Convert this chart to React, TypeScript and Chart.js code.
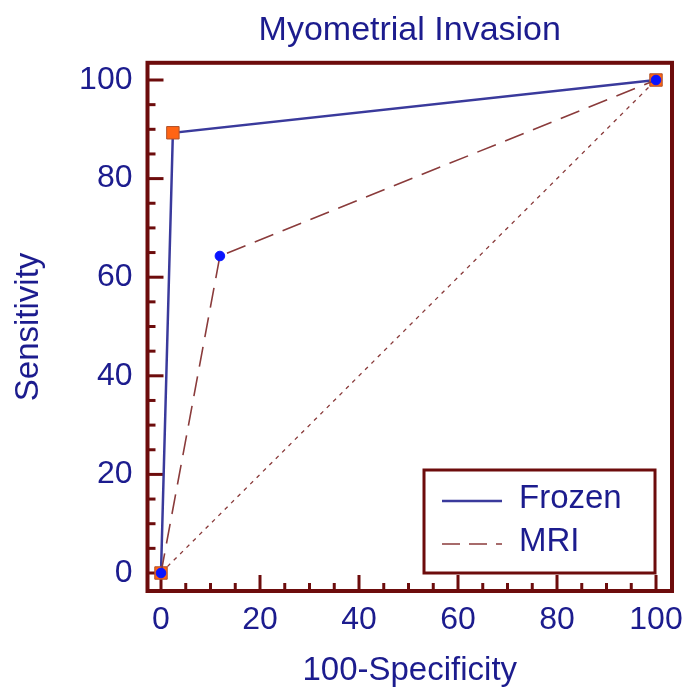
import React, { useEffect, useRef } from "react";
import { Chart, registerables } from "chart.js";

Chart.register(...registerables);

const chartTitle = "Myometrial Invasion";
const xTitle = "100-Specificity";
const yTitle = "Sensitivity";
const legendLabels = ["Frozen", "MRI"];
const frozenX = [0, 2.4, 100];
const frozenY = [0, 89.3, 100];
const mriX = [0, 11.9, 100];
const mriY = [0, 64.3, 100];
const refX = [0, 100];
const refY = [0, 100];
const xTicks = [0, 20, 40, 60, 80, 100];
const yTicks = [0, 20, 40, 60, 80, 100];
const minorStep = 5;

const TEXT = "#1c1c8e";
const FRAME = "#6d0c0c";
const FROZEN = "#3a3a9c";
const MRI = "#8a3b3b";
const FONT = "'Liberation Sans', Arial, sans-serif";

const framePlugin = {
  id: "frame",
  beforeDatasetsDraw(chart: any) {
    const { ctx, chartArea: a, scales } = chart;
    const x = scales.x;
    const y = scales.y;
    ctx.save();
    ctx.strokeStyle = FRAME;
    ctx.lineWidth = 3;
    const x0 = xTicks[0], x1 = xTicks[xTicks.length - 1];
    for (let v = x0; v <= x1; v += minorStep) {
      const len = xTicks.includes(v) ? 16 : 8;
      const px = x.getPixelForValue(v);
      ctx.beginPath();
      ctx.moveTo(px, a.bottom);
      ctx.lineTo(px, a.bottom - len);
      ctx.stroke();
    }
    const y0 = yTicks[0], y1 = yTicks[yTicks.length - 1];
    for (let v = y0; v <= y1; v += minorStep) {
      const len = yTicks.includes(v) ? 16 : 8;
      const py = y.getPixelForValue(v);
      ctx.beginPath();
      ctx.moveTo(a.left, py);
      ctx.lineTo(a.left + len, py);
      ctx.stroke();
    }
    ctx.lineWidth = 4;
    ctx.strokeRect(a.left, a.top, a.right - a.left, a.bottom - a.top);
    ctx.restore();
  },
};

const legendPlugin = {
  id: "boxLegend",
  afterDatasetsDraw(chart: any) {
    const { ctx, scales } = chart;
    const right = scales.x.getPixelForValue(xTicks[xTicks.length - 1]) - 1;
    const bottom = scales.y.getPixelForValue(yTicks[0]);
    const w = 231;
    const h = 103;
    const left = right - w;
    const top = bottom - h;
    ctx.save();
    ctx.fillStyle = "#ffffff";
    ctx.fillRect(left, top, w, h);
    ctx.strokeStyle = FRAME;
    ctx.lineWidth = 3;
    ctx.strokeRect(left, top, w, h);
    const ds = chart.data.datasets;
    const entries = [ds[1], ds[0]];
    entries.forEach((d: any, i: number) => {
      const ly = top + 31 + i * 43;
      ctx.strokeStyle = d.borderColor;
      ctx.lineWidth = i === 0 ? 2.5 : 1.6;
      ctx.setLineDash(i === 0 ? [] : [18, 9]);
      ctx.beginPath();
      ctx.moveTo(left + 18, ly);
      ctx.lineTo(left + 78, ly);
      ctx.stroke();
      ctx.setLineDash([]);
      ctx.fillStyle = TEXT;
      ctx.font = `33px ${FONT}`;
      ctx.textBaseline = "middle";
      ctx.textAlign = "left";
      ctx.fillText(d.label, left + 95, ly - 2);
    });
    ctx.restore();
  },
};

export default function App() {
  const ref = useRef<HTMLCanvasElement>(null);
  useEffect(() => {
    if (!ref.current) return;
    const chart = new Chart(ref.current, {
      type: "scatter",
      data: {
        datasets: [
          {
            label: legendLabels[1],
            data: mriX.map((v, i) => ({ x: v, y: mriY[i] })),
            showLine: true,
            borderColor: MRI,
            borderWidth: 1.6,
            borderDash: [20, 10],
            pointStyle: "circle",
            pointRadius: 4.8,
            pointBackgroundColor: "#0a14ff",
            pointBorderColor: "#0a14ff",
            pointBorderWidth: 1,
          },
          {
            label: legendLabels[0],
            data: frozenX.map((v, i) => ({ x: v, y: frozenY[i] })),
            showLine: true,
            borderColor: FROZEN,
            borderWidth: 2.5,
            pointStyle: "rect",
            pointRadius: 8.8,
            pointBackgroundColor: "#ff6414",
            pointBorderColor: "#b0522a",
            pointBorderWidth: 1,
          },
          {
            label: "ref",
            data: refX.map((v, i) => ({ x: v, y: refY[i] })),
            showLine: true,
            borderColor: MRI,
            borderWidth: 1.3,
            borderDash: [4, 5],
            pointRadius: 0,
          },
        ],
      },
      options: {
        animation: false,
        responsive: false,
        devicePixelRatio: 1,
        layout: { padding: { left: 0, right: 14, top: 0, bottom: 0 } },
        plugins: {
          legend: { display: false },
          tooltip: { enabled: false },
          title: {
            display: true,
            text: chartTitle,
            color: TEXT,
            fullSize: false,
            font: { family: FONT, size: 34, weight: "normal" },
            padding: { top: 10, bottom: 12 },
          },
        },
        scales: {
          x: {
            type: "linear",
            min: -2.727,
            max: 103.23,
            grid: { display: false, drawTicks: false },
            border: { display: false },
            afterBuildTicks: (s: any) => {
              s.ticks = xTicks.map((v) => ({ value: v }));
            },
            afterFit: (s: any) => {
              s.height = 99;
              s.paddingLeft = 0;
              s.paddingRight = 0;
            },
            ticks: {
              color: TEXT,
              padding: 10,
              maxRotation: 0,
              font: { family: FONT, size: 32 },
            },
            title: {
              display: true,
              text: xTitle,
              color: TEXT,
              font: { family: FONT, size: 33, lineHeight: 1 },
              padding: { top: 0, bottom: 3 },
            },
          },
          y: {
            type: "linear",
            min: -3.65,
            max: 103.49,
            grid: { display: false, drawTicks: false },
            border: { display: false },
            afterBuildTicks: (s: any) => {
              s.ticks = yTicks.map((v) => ({ value: v }));
            },
            afterFit: (s: any) => {
              s.width = 147.5;
              s.paddingTop = 0;
              s.paddingBottom = 0;
            },
            ticks: {
              color: TEXT,
              padding: 15,
              font: { family: FONT, size: 32 },
            },
            title: {
              display: true,
              text: yTitle,
              color: TEXT,
              font: { family: FONT, size: 33, lineHeight: 1.2 },
              padding: { top: 9, bottom: 0 },
            },
          },
        },
      },
      plugins: [framePlugin, legendPlugin],
    });
    return () => chart.destroy();
  }, []);
  return (
    <div style={{ position: "absolute", left: 0, top: 0, width: 686, height: 690, background: "#fff" }}>
      <canvas ref={ref} width={686} height={690} />
    </div>
  );
}
